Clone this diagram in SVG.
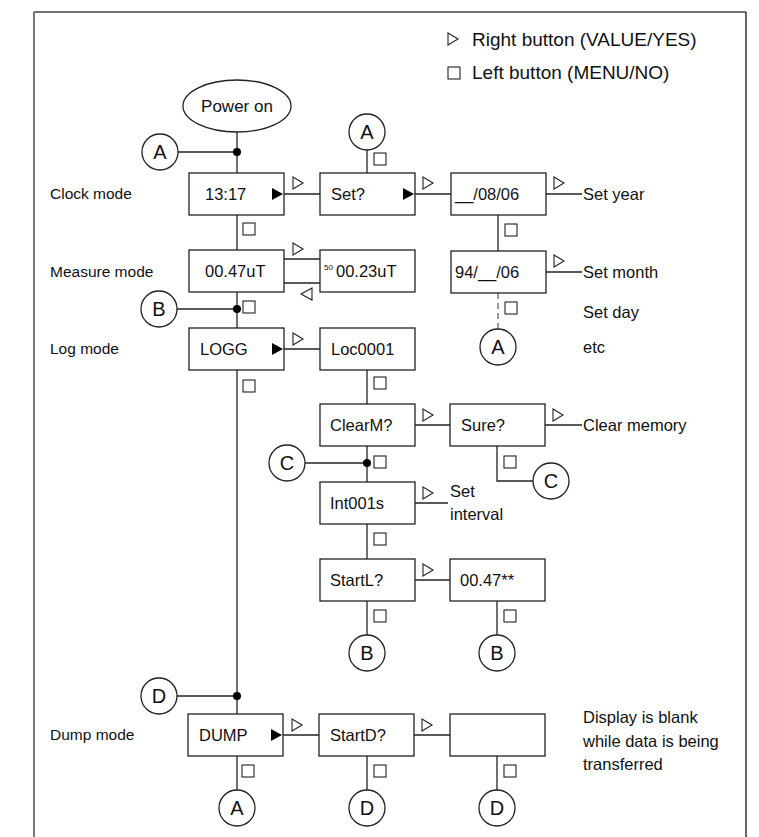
<svg xmlns="http://www.w3.org/2000/svg" xmlns:xlink="http://www.w3.org/1999/xlink" width="759" height="837" viewBox="0 0 759 837">
<style>
text{font-family:"Liberation Sans",Arial,sans-serif;font-size:16.5px;fill:#111}
.lg{font-size:19px}
.md{font-size:15.5px}
.cl{font-size:20px;text-anchor:middle}
.box{fill:#fff;stroke:#222;stroke-width:1.3}
.ln{fill:none;stroke:#222;stroke-width:1.3}
.dash{fill:none;stroke:#666;stroke-width:1.3;stroke-dasharray:6,4}
.circ{fill:#fff;stroke:#222;stroke-width:1.3}
</style>
<defs>
<path id="tri" d="M0,0 L10,6 L0,12 Z" fill="#fff" stroke="#222" stroke-width="1.1"/>
<path id="ltri" d="M11,0 L0,6 L11,12 Z" fill="#fff" stroke="#222" stroke-width="1.1"/>
<rect id="sq" x="0" y="0" width="12" height="12" fill="#fff" stroke="#222" stroke-width="1.1"/>
<path id="ftri" d="M0,-6 L11,0 L0,6 Z" fill="#000"/>
</defs>
<rect width="759" height="837" fill="#fff"/>
<g id="frame">
<line x1="34" y1="12" x2="746" y2="12" stroke="#444" stroke-width="1.5"/>
<line x1="34" y1="12" x2="34" y2="837" stroke="#777" stroke-width="2"/>
<line x1="746" y1="12" x2="746" y2="837" stroke="#333" stroke-width="1.5"/>
</g>
<g id="legend">
<use xlink:href="#tri" x="448" y="33"/>
<text class="lg" x="472" y="46">Right button (VALUE/YES)</text>
<use xlink:href="#sq" x="448" y="67"/>
<text class="lg" x="472" y="79">Left button (MENU/NO)</text>
</g>
<g id="mode-labels">
<text class="md" x="50" y="199">Clock mode</text>
<text class="md" x="50" y="277">Measure mode</text>
<text class="md" x="50" y="354">Log mode</text>
<text class="md" x="50" y="740">Dump mode</text>
</g>
<g id="connectors">
<line class="ln" x1="237" y1="132" x2="237" y2="173"/>
<line class="ln" x1="178" y1="152" x2="237" y2="152"/>
<line class="ln" x1="284" y1="194" x2="320" y2="194"/>
<line class="ln" x1="367" y1="150" x2="367" y2="173"/>
<line class="ln" x1="415" y1="194" x2="451" y2="194"/>
<line class="ln" x1="546" y1="194" x2="582" y2="194"/>
<line class="ln" x1="498" y1="215" x2="498" y2="251"/>
<line class="ln" x1="546" y1="272" x2="582" y2="272"/>
<line class="dash" x1="498" y1="293" x2="498" y2="329"/>
<line class="ln" x1="237" y1="215" x2="237" y2="250"/>
<line class="ln" x1="284" y1="259" x2="320" y2="259"/>
<line class="ln" x1="284" y1="283" x2="320" y2="283"/>
<line class="ln" x1="237" y1="292" x2="237" y2="328"/>
<line class="ln" x1="177" y1="309" x2="237" y2="309"/>
<line class="ln" x1="284" y1="349" x2="320" y2="349"/>
<line class="ln" x1="237" y1="370" x2="237" y2="714"/>
<line class="ln" x1="367" y1="370" x2="367" y2="404"/>
<line class="ln" x1="415" y1="425" x2="450" y2="425"/>
<line class="ln" x1="545" y1="425" x2="582" y2="425"/>
<line class="ln" x1="367" y1="446" x2="367" y2="482"/>
<line class="ln" x1="305" y1="463" x2="367" y2="463"/>
<polyline class="ln" points="497,446 497,481 533,481"/>
<line class="ln" x1="415" y1="503" x2="448" y2="503"/>
<line class="ln" x1="367" y1="524" x2="367" y2="559"/>
<line class="ln" x1="415" y1="580" x2="450" y2="580"/>
<line class="ln" x1="367" y1="601" x2="367" y2="635"/>
<line class="ln" x1="497" y1="601" x2="497" y2="635"/>
<line class="ln" x1="177" y1="696" x2="237" y2="696"/>
<line class="ln" x1="283" y1="735" x2="319" y2="735"/>
<line class="ln" x1="414" y1="735" x2="450" y2="735"/>
<line class="ln" x1="237" y1="756" x2="237" y2="790"/>
<line class="ln" x1="367" y1="756" x2="367" y2="790"/>
<line class="ln" x1="497" y1="756" x2="497" y2="790"/>
<circle cx="237" cy="152" r="4" fill="#000"/>
<circle cx="237" cy="309" r="4" fill="#000"/>
<circle cx="367" cy="463" r="4" fill="#000"/>
<circle cx="237" cy="696" r="4" fill="#000"/>
<use xlink:href="#tri" x="293" y="177"/>
<use xlink:href="#tri" x="423" y="177"/>
<use xlink:href="#tri" x="554" y="177"/>
<use xlink:href="#tri" x="554" y="255"/>
<use xlink:href="#tri" x="293" y="243"/>
<use xlink:href="#ltri" x="301" y="288"/>
<use xlink:href="#tri" x="293" y="333"/>
<use xlink:href="#tri" x="423" y="409"/>
<use xlink:href="#tri" x="553" y="409"/>
<use xlink:href="#tri" x="423" y="487"/>
<use xlink:href="#tri" x="423" y="564"/>
<use xlink:href="#tri" x="292" y="719"/>
<use xlink:href="#tri" x="422" y="719"/>
<use xlink:href="#sq" x="374" y="153"/>
<use xlink:href="#sq" x="243" y="223"/>
<use xlink:href="#sq" x="505" y="224"/>
<use xlink:href="#sq" x="505" y="302"/>
<use xlink:href="#sq" x="243" y="301"/>
<use xlink:href="#sq" x="243" y="380"/>
<use xlink:href="#sq" x="374" y="377"/>
<use xlink:href="#sq" x="374" y="456"/>
<use xlink:href="#sq" x="504" y="456"/>
<use xlink:href="#sq" x="374" y="533"/>
<use xlink:href="#sq" x="374" y="610"/>
<use xlink:href="#sq" x="504" y="610"/>
<use xlink:href="#sq" x="242" y="765"/>
<use xlink:href="#sq" x="374" y="765"/>
<use xlink:href="#sq" x="504" y="765"/>
</g>
<g id="power-on"><ellipse class="box" cx="237" cy="106" rx="54" ry="26"/><text x="237" y="112" text-anchor="middle" style="font-size:17px">Power on</text></g>
<g id="conn-a1"><circle class="circ" cx="160" cy="152" r="18"/><text class="cl" x="160" y="159">A</text></g>
<g id="conn-a2"><circle class="circ" cx="367" cy="132" r="18"/><text class="cl" x="367" y="139">A</text></g>
<g id="clock"><rect class="box" x="189" y="173" width="95" height="42"/><text x="205" y="200">13:17</text><use xlink:href="#ftri" x="272" y="194"/></g>
<g id="set"><rect class="box" x="320" y="173" width="95" height="42"/><text x="331" y="200">Set?</text><use xlink:href="#ftri" x="403" y="194"/></g>
<g id="date-year"><rect class="box" x="451" y="173" width="95" height="42"/><text x="455" y="200">__/08/06</text></g>
<g id="set-year"><text x="583" y="200">Set year</text></g>
<g id="date-month"><rect class="box" x="451" y="251" width="95" height="42"/><text x="455" y="278">94/__/06</text></g>
<g id="set-month"><text x="583" y="278">Set month</text></g>
<g id="set-day"><text x="583" y="318">Set day</text></g>
<g id="conn-a3"><circle class="circ" cx="498" cy="347" r="18"/><text class="cl" x="498" y="354">A</text></g>
<g id="etc"><text x="583" y="353">etc</text></g>
<g id="measure"><rect class="box" x="189" y="250" width="95" height="42"/><text x="205" y="277">00.47uT</text></g>
<g id="measure2"><rect class="box" x="320" y="250" width="95" height="42"/><text x="324" y="270" style="font-size:8px">50</text><text x="336" y="277">00.23uT</text></g>
<g id="conn-b1"><circle class="circ" cx="159" cy="309" r="18"/><text class="cl" x="159" y="316">B</text></g>
<g id="logg"><rect class="box" x="189" y="328" width="95" height="42"/><text x="200" y="355">LOGG</text><use xlink:href="#ftri" x="272" y="349"/></g>
<g id="loc"><rect class="box" x="320" y="328" width="95" height="42"/><text x="331" y="355">Loc0001</text></g>
<g id="clearm"><rect class="box" x="320" y="404" width="95" height="42"/><text x="330" y="431">ClearM?</text></g>
<g id="sure"><rect class="box" x="450" y="404" width="95" height="42"/><text x="461" y="431">Sure?</text></g>
<g id="clear-memory"><text x="583" y="431">Clear memory</text></g>
<g id="conn-c1"><circle class="circ" cx="287" cy="463" r="18"/><text class="cl" x="287" y="470">C</text></g>
<g id="conn-c2"><circle class="circ" cx="551" cy="481" r="18"/><text class="cl" x="551" y="488">C</text></g>
<g id="int"><rect class="box" x="320" y="482" width="95" height="42"/><text x="330" y="509">Int001s</text></g>
<g id="set-interval"><text x="450" y="497">Set</text><text x="450" y="520">interval</text></g>
<g id="startl"><rect class="box" x="320" y="559" width="95" height="42"/><text x="330" y="586">StartL?</text></g>
<g id="reading"><rect class="box" x="450" y="559" width="95" height="42"/><text x="460" y="586">00.47**</text></g>
<g id="conn-b2"><circle class="circ" cx="367" cy="653" r="18"/><text class="cl" x="367" y="660">B</text></g>
<g id="conn-b3"><circle class="circ" cx="497" cy="653" r="18"/><text class="cl" x="497" y="660">B</text></g>
<g id="conn-d1"><circle class="circ" cx="159" cy="696" r="18"/><text class="cl" x="159" y="703">D</text></g>
<g id="dump"><rect class="box" x="188" y="714" width="95" height="42"/><text x="199" y="741">DUMP</text><use xlink:href="#ftri" x="271" y="735"/></g>
<g id="startd"><rect class="box" x="319" y="714" width="95" height="42"/><text x="330" y="741">StartD?</text></g>
<g id="blank"><rect class="box" x="450" y="714" width="95" height="42"/></g>
<g id="blank-note"><text x="583" y="723">Display is blank</text><text x="583" y="747">while data is being</text><text x="583" y="770">transferred</text></g>
<g id="conn-a4"><circle class="circ" cx="237" cy="808" r="18"/><text class="cl" x="237" y="815">A</text></g>
<g id="conn-d2"><circle class="circ" cx="367" cy="808" r="18"/><text class="cl" x="367" y="815">D</text></g>
<g id="conn-d3"><circle class="circ" cx="497" cy="808" r="18"/><text class="cl" x="497" y="815">D</text></g>
</svg>
